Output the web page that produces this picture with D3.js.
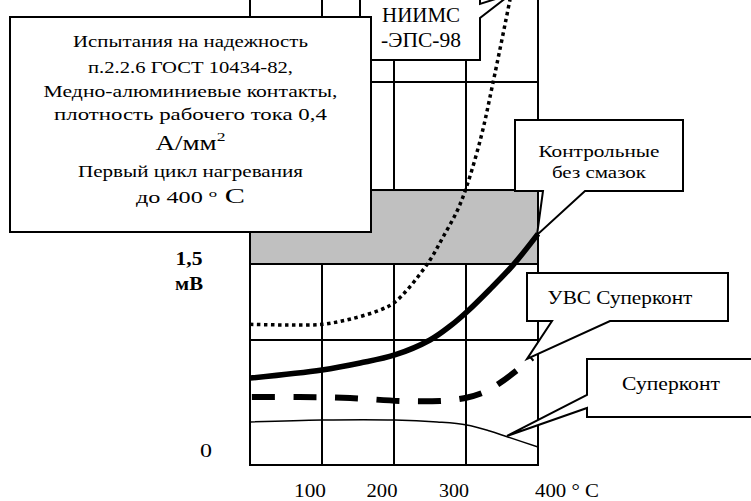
<!DOCTYPE html>
<html><head><meta charset="utf-8">
<script src="https://cdn.jsdelivr.net/npm/d3@7"></script>
<style>body{margin:0;background:#fff}svg{display:block}svg text{font-family:"Liberation Serif";}</style>
</head><body><svg id="c" width="751" height="501"></svg>
<script>
// ---- data ----
const xTicks = [100, 200, 300, 400];
const xTickLabels = ["100", "200", "300", "400 ° C"];
const xGrid = [0, 100, 200, 300, 400];
const yGrid = [0, 0.933, 1.5, 2.052, 2.858];
const bandRange = [1.5, 2.052];
const yLabelValue = "1,5";
const yLabelUnit = "мВ";
const yZeroLabel = "0";

const niimsT = [0, 50, 100, 140, 180, 200, 222, 250, 268, 288, 301, 321, 337, 361, 372];
const niimsV = [1.05, 1.045, 1.05, 1.09, 1.155, 1.21, 1.33, 1.53, 1.70, 1.90, 2.08, 2.45, 2.84, 3.47, 3.77];
const controlT = [0, 100, 153, 201, 250, 278, 301, 333, 365, 400];
const controlV = [0.649, 0.709, 0.761, 0.821, 0.933, 1.037, 1.142, 1.31, 1.49, 1.725];
const uvsT = [0, 69, 139, 208, 264, 299, 326, 347, 375, 392];
const uvsV = [0.507, 0.507, 0.5, 0.478, 0.478, 0.5, 0.545, 0.612, 0.724, 0.8];
const superT = [0, 100, 201, 260, 301, 333, 358, 400];
const superV = [0.321, 0.336, 0.336, 0.321, 0.299, 0.254, 0.209, 0.134];

const infoLines = ["Испытания на надежность", "п.2.2.6 ГОСТ 10434-82,", "Медно-алюминиевые контакты,", "плотность рабочего тока 0,4"];
const niimsLabel = ["НИИМС", "-ЭПС-98"];
const controlLabel = ["Контрольные", "без смазок"];
const uvsLabel = "УВС Суперконт";
const superLabel = "Суперконт";

// ---- scales ----
const x = d3.scaleLinear().domain([0, 400]).range([250, 538]);
const y = d3.scaleLinear().domain([0, 1.5]).range([465, 264]);
const yTop = y.invert(-5);

const svg = d3.select("#c");
const g = svg.append("g");
const FONT = "Liberation Serif";

// grid
g.selectAll(".vg").data(xGrid).enter().append("line")
  .attr("x1", d => x(d)).attr("x2", d => x(d))
  .attr("y1", y(yTop)).attr("y2", y(0))
  .attr("stroke", "#000").attr("stroke-width", 2);
g.selectAll(".hg").data(yGrid).enter().append("line")
  .attr("x1", x(0) - 1).attr("x2", x(400) + 1)
  .attr("y1", d => y(d)).attr("y2", d => y(d))
  .attr("stroke", "#000").attr("stroke-width", 2);
// band
g.append("rect")
  .attr("x", x(0)).attr("width", x(400) - x(0))
  .attr("y", y(bandRange[1])).attr("height", y(bandRange[0]) - y(bandRange[1]))
  .attr("fill", "#c0c0c0").attr("stroke", "#000").attr("stroke-width", 2);

// curves
const line = d3.line().x(d => x(d[0])).y(d => y(d[1])).curve(d3.curveCatmullRom.alpha(0.5));
const zip = (a, b) => a.map((t, i) => [t, b[i]]);
g.append("path").attr("d", line(zip(niimsT, niimsV)))
  .attr("fill", "none").attr("stroke", "#000").attr("stroke-width", 3.5).attr("stroke-dasharray", "3.5,3.5");
g.append("path").attr("d", line(zip(controlT, controlV)))
  .attr("fill", "none").attr("stroke", "#000").attr("stroke-width", 5.5);
g.append("path").attr("d", line(zip(uvsT, uvsV)))
  .attr("fill", "none").attr("stroke", "#000").attr("stroke-width", 6).attr("stroke-dasharray", "23,18.5").attr("stroke-dashoffset", -2);
g.append("path").attr("d", line(zip(superT, superV)))
  .attr("fill", "none").attr("stroke", "#000").attr("stroke-width", 1.5);

function txt(xp, yp, size, s, anchor) {
  return g.append("text").attr("x", xp).attr("y", yp).attr("text-anchor", anchor || "middle")
    .style("font-family", FONT).style("font-size", size + "px").text(s);
}
// stretch a text horizontally to a width, around its anchor x
function fit(sel, ax, w) {
  const bw = sel.node().getBBox().width;
  if (bw > 0) {
    const sx = w / bw;
    sel.attr("transform", `translate(${ax},0) scale(${sx},1) translate(${-ax},0)`);
  }
  return sel;
}

// axis labels
const tickW = [32, 31, 30, 64];
xTicks.forEach((d, i) => {
  const ax = i < 3 ? x(d) - 12 : x(d) - 3;
  fit(txt(ax, 497, 18, xTickLabels[i], i < 3 ? "middle" : "start"), ax, tickW[i]);
});
fit(txt(206, y(0) - 8, 18, yZeroLabel), 206, 12);
fit(txt(189, y(1.5) + 1, 18, yLabelValue).style("font-weight", "bold"), 189, 27);
fit(txt(189, y(1.5) + 26, 18, yLabelUnit).style("font-weight", "bold"), 189, 28);

// callouts
function callout(pts) {
  return g.append("path").attr("d", "M" + pts.map(p => p.join(",")).join("L") + "Z")
    .attr("fill", "#fff").attr("stroke", "#000").attr("stroke-width", 2).attr("stroke-linejoin", "miter");
}
callout([[360, -20], [480, -20], [480, 4], [511, -6], [480, 18], [480, 60], [360, 60]]);
const niimsW = [78, 80];
niimsLabel.forEach((s, i) => fit(txt(421, 22 + i * 25, 20, s), 421, niimsW[i]));

callout([[515, 120], [683, 120], [683, 191], [585, 191], [537, 235], [543, 191], [515, 191]]);
const controlW = [121, 95];
controlLabel.forEach((s, i) => fit(txt(599, 157 + i * 21, 17, s), 599, controlW[i]));

callout([[527, 273], [728, 273], [728, 321], [610, 321], [527, 359], [552, 321], [527, 321]]);
fit(txt(620, 304, 18, uvsLabel), 620, 145);

callout([[587, 359], [770, 359], [770, 417], [587, 417], [587, 408], [507, 436], [587, 395]]);
fit(txt(671, 390, 18, superLabel), 671, 98);

// Info box
g.append("rect").attr("x", 10).attr("y", 17).attr("width", 361).attr("height", 215)
  .attr("fill", "#fff").attr("stroke", "#000").attr("stroke-width", 2);
const cx = 190.5;
const infoW = [235, 205, 294, 273];
infoLines.forEach((s, i) => fit(txt(cx, [47, 73, 97, 120][i], 16, s), cx, infoW[i]));
const t5 = txt(cx, 150, 20, "");
t5.append("tspan").text("А/мм");
t5.append("tspan").style("font-size", "13px").attr("dy", -9).text("2");
fit(t5, cx, 70);
fit(txt(cx, 177, 16, "Первый цикл нагревания"), cx, 226);
const t7 = txt(cx, 203, 16, "");
t7.append("tspan").text("до 400 ");
t7.append("tspan").style("font-size", "11px").attr("dy", -6).text("o");
t7.append("tspan").style("font-size", "20px").attr("dy", 6).text(" С");
fit(t7, cx, 109);
</script></body></html>
